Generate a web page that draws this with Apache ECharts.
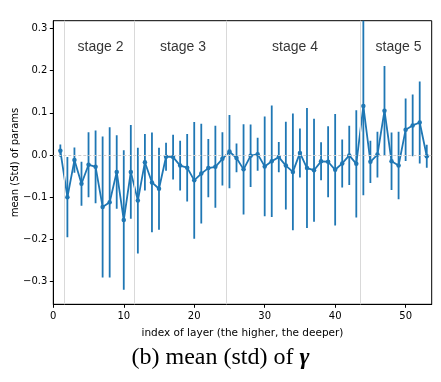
<!DOCTYPE html>
<html>
<head>
<meta charset="utf-8">
<script src="https://cdn.jsdelivr.net/npm/echarts@6/dist/echarts.min.js"></script>
<style>
html,body{margin:0;padding:0;background:#fff;}
#chart{width:441px;height:382px;}
</style>
</head>
<body>
<div id="chart"></div>
<script>
// Layer indices 1..53
const layers = [1,2,3,4,5,6,7,8,9,10,11,12,13,14,15,16,17,18,19,20,21,22,23,24,25,26,27,28,29,30,31,32,33,34,35,36,37,38,39,40,41,42,43,44,45,46,47,48,49,50,51,52,53];
const means = [0.010,-0.100,-0.012,-0.068,-0.023,-0.028,-0.123,-0.112,-0.040,-0.154,
  -0.040,-0.108,-0.017,-0.065,-0.080,-0.004,-0.005,-0.025,-0.030,-0.060,
  -0.044,-0.031,-0.028,-0.009,0.008,-0.007,-0.034,-0.002,0.002,-0.027,
  -0.015,-0.005,-0.025,-0.040,0.005,-0.031,-0.036,-0.015,-0.016,-0.035,
  -0.020,-0.001,-0.021,0.116,-0.016,0.001,0.105,-0.015,-0.025,0.060,
  0.070,0.077,-0.003];
const stds = [0.015,0.095,0.030,0.052,0.077,0.086,0.167,0.178,0.087,0.165,
  0.111,0.125,0.067,0.118,0.097,0.033,0.053,0.059,0.080,0.138,
  0.118,0.069,0.097,0.063,0.087,0.034,0.107,0.074,0.039,0.118,
  0.132,0.036,0.104,0.138,0.058,0.142,0.122,0.045,0.084,0.132,
  0.057,0.070,0.127,0.211,0.050,0.054,0.106,0.068,0.080,0.074,
  0.073,0.097,0.027];
const stageNames = ['stage 2','stage 3','stage 4','stage 5'];
const stageLabelX = [6.7, 18.4, 34.3, 49.0];
const stageLabelY = [0.255, 0.255, 0.255, 0.255];
const stageBounds = [1.5, 11.5, 24.5, 43.5];
const xTicks = [0,10,20,30,40,50];
const yTicks = [-0.3,-0.2,-0.1,0.0,0.1,0.2,0.3];

const blue = '#1f77b4';
const fmtY = v => (v < 0 ? '\u2212' : '') + Math.abs(v).toFixed(1);

const chart = echarts.init(document.getElementById('chart'), null, {renderer:'canvas'});
const option = {
  animation: false,
  backgroundColor: '#fff',
  textStyle: {fontFamily: 'DejaVu Sans'},
  grid: {left: 53.3, top: 20.7, right: 9.3, bottom: 77.7, show: true, borderColor: '#000', borderWidth: 1,
    backgroundColor: 'transparent', containLabel: false, outerBoundsMode: 'none'},
  xAxis: {
    type: 'value', min: 0, max: 53.7,
    name: 'index of layer (the higher, the deeper)',
    nameLocation: 'middle', nameGap: 23,
    nameTextStyle: {fontSize: 10.5, color: '#000', fontFamily: 'DejaVu Sans'},
    axisLine: {show: true, onZero: false, lineStyle: {color: '#000', width: 1}},
    axisTick: {show: true, inside: false, length: 3.5, lineStyle: {color: '#000', width: 1}, customValues: xTicks},
    axisLabel: {color: '#000', fontSize: 10, margin: 7, fontFamily: 'DejaVu Sans', customValues: xTicks, formatter: v => String(v)},
    splitLine: {show: false}
  },
  yAxis: {
    type: 'value', min: -0.3535, max: 0.318,
    name: 'mean (Std) of params',
    nameLocation: 'middle', nameGap: 33, nameRotate: 90, nameMoveOverlap: false,
    nameTextStyle: {fontSize: 10, color: '#000', fontFamily: 'DejaVu Sans'},
    axisLine: {show: true, onZero: false, lineStyle: {color: '#000', width: 1}},
    axisTick: {show: true, inside: false, length: 3.5, lineStyle: {color: '#000', width: 1}, customValues: yTicks},
    axisLabel: {color: '#000', fontSize: 10, margin: 6, fontFamily: 'DejaVu Sans', customValues: yTicks, formatter: fmtY},
    splitLine: {show: false}
  },
  series: [
    {
      type: 'line',
      z: 1,
      data: [],
      markLine: {
        silent: true, symbol: 'none', label: {show: false},
        lineStyle: {color: '#d9d9d9', width: 1, type: 'solid'},
        data: stageBounds.map(b => ({xAxis: b}))
      }
    },
    {
      type: 'line',
      z: 1,
      data: [],
      markLine: {
        silent: true, symbol: 'none', label: {show: false},
        lineStyle: {color: '#cfcfcf', width: 1, type: [3, 2]},
        data: [{yAxis: 0}]
      }
    },
    {
      type: 'custom',
      clip: true,
      z: 3,
      data: layers.map((x, i) => [x, means[i] - stds[i], means[i] + stds[i]]),
      renderItem: function (params, api) {
        const lo = api.coord([api.value(0), api.value(1)]);
        const hi = api.coord([api.value(0), api.value(2)]);
        return {
          type: 'line',
          shape: {x1: lo[0], y1: lo[1], x2: hi[0], y2: hi[1]},
          style: {stroke: blue, lineWidth: 1.8}
        };
      },
      encode: {x: 0, y: [1, 2]}
    },
    {
      type: 'line',
      z: 4,
      data: layers.map((x, i) => [x, means[i]]),
      symbol: 'circle', symbolSize: 4.5,
      itemStyle: {color: blue},
      lineStyle: {color: blue, width: 1.8}
    },
    {
      type: 'scatter',
      z: 5,
      symbolSize: 0,
      data: stageNames.map((n, i) => ({name: n, value: [stageLabelX[i], stageLabelY[i]]})),
      label: {show: true, position: 'inside', formatter: p => p.name, color: '#000', fontSize: 14, fontFamily: 'Liberation Sans'}
    }
  ],
  graphic: [
    {
      type: 'text',
      left: 'center',
      top: 346,
      style: {
        rich: {
          n: {fontFamily: 'Liberation Serif', fontSize: 24, fill: '#000'},
          g: {fontFamily: 'Liberation Serif', fontSize: 24, fontWeight: 'bold', fontStyle: 'italic', fill: '#000'}
        },
        text: '{n|(b) mean (std) of }{g|\u03b3}'
      }
    }
  ]
};
chart.setOption(option);
</script>
</body>
</html>
